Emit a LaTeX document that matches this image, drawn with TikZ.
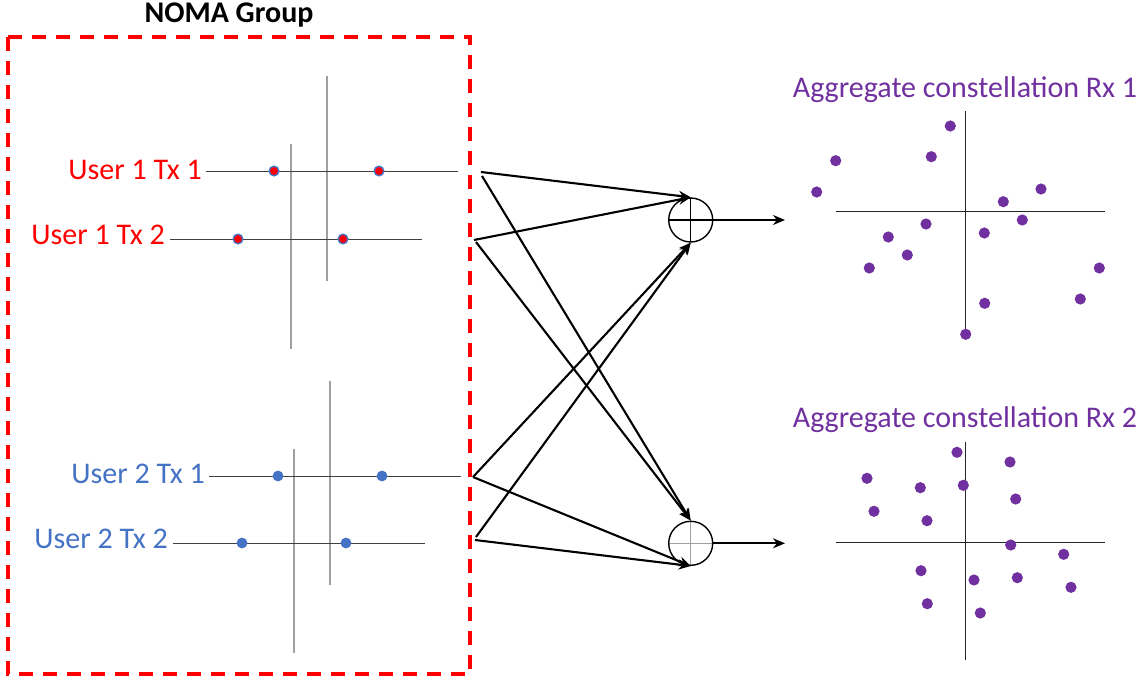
\documentclass[tikz,border=0pt]{standalone}
\usepackage{fontspec}
\setmainfont{Carlito}
\usetikzlibrary{arrows.meta}
\definecolor{nred}{HTML}{FF0000}
\definecolor{nblue}{HTML}{4472C4}
\definecolor{npurple}{HTML}{7030A0}
\definecolor{vgray}{HTML}{A0A0A0}
\definecolor{hgray}{HTML}{404040}
\begin{document}
\begin{tikzpicture}[x=1pt,y=-1pt,
  lbl/.style={font=\fontsize{30}{34}\selectfont, inner sep=0pt},
  ttl/.style={font=\fontsize{30}{34}\selectfont\bfseries, inner sep=0pt},
  txline/.style={draw=hgray, line width=1pt},
  vaxis/.style={draw=vgray, line width=1.4pt},
  rxaxis/.style={draw=black!85, line width=1pt},
  udotA/.style={fill=nred, draw=nblue, line width=1.4pt},
  udotB/.style={fill=nblue},
  rxdot/.style={fill=npurple},
  arr/.style={line width=2.1pt, -{Stealth[length=12pt,width=10pt]}},
  adder/.style={circle, draw, line width=1.4pt, minimum size=44pt, inner sep=0pt,
    path picture={\draw[#1, line width=1.1pt]
      (path picture bounding box.north) -- (path picture bounding box.south)
      (path picture bounding box.west) -- (path picture bounding box.east);}},
  groupbox/.style={draw=nred, line width=3.5pt, dash pattern=on 14pt off 10pt}]
\useasboundingbox (0,0) rectangle (1148,677);

% NOMA group frame and title
\draw[groupbox] (8,37) rectangle (470,674);
\node[ttl, anchor=base] (title) at (229,23) {NOMA Group};

% ---- User 1 constellations ----
\draw[vaxis] (291,144) -- (291,349);
\draw[vaxis] (327,76) -- (327,281);
\coordinate (u1t1w) at (206,171); \coordinate (u1t1e) at (458,171);
\coordinate (u1t2w) at (170,239); \coordinate (u1t2e) at (422,239);
\draw[txline] (u1t1w) -- (u1t1e);
\draw[txline] (u1t2w) -- (u1t2e);
\path[udotA] (274,171) circle (4.8pt) (379,171) circle (4.8pt)
             (238,239) circle (4.8pt) (343,239) circle (4.8pt);
\node[lbl, text=nred, anchor=base east] (u1t1) at (202,179.5) {User 1 Tx 1};
\node[lbl, text=nred, anchor=base east] (u1t2) at (165,244) {User 1 Tx 2};

% ---- User 2 constellations ----
\draw[vaxis] (294,449) -- (294,653);
\draw[vaxis] (330,381) -- (330,585);
\coordinate (u2t1w) at (209,476); \coordinate (u2t1e) at (461,476);
\coordinate (u2t2w) at (173,543); \coordinate (u2t2e) at (425,543);
\draw[txline] (u2t1w) -- (u2t1e);
\draw[txline] (u2t2w) -- (u2t2e);
\path[udotB] (278,476) circle (5.4pt) (382,476) circle (5.4pt)
             (242,543) circle (5.4pt) (346,543) circle (5.4pt);
\node[lbl, text=nblue, anchor=base east] (u2t1) at (205,483.5) {User 2 Tx 1};
\node[lbl, text=nblue, anchor=base east] (u2t2) at (168,548) {User 2 Tx 2};

% ---- Adders ----
\node[adder=black] (sum1) at (690.7,220) {};
\node[adder=vgray] (sum2) at (690.7,543.3) {};

% ---- Channel links ----
\coordinate (s11a) at (481,172); \coordinate (s11b) at (482,176);
\coordinate (s12a) at (474,240); \coordinate (s12b) at (476,242);
\coordinate (s21a) at (473,477); \coordinate (s21b) at (473,477);
\coordinate (s22a) at (476,537); \coordinate (s22b) at (475,540);
\draw[arr] (s11a) -- (sum1.north);
\draw[arr] (s12a) -- (sum1.north);
\draw[arr] (s21a) -- (sum1.south);
\draw[arr] (s22a) -- (sum1.south);
\draw[arr] (s11b) -- (sum2.north);
\draw[arr] (s12b) -- (sum2.north);
\draw[arr] (s21b) -- (sum2.south);
\draw[arr] (s22b) -- (sum2.south);

% ---- Adder outputs ----
\coordinate (rx1in) at (785,220);
\coordinate (rx2in) at (785,543.3);
\draw[arr] (sum1.east) -- (rx1in);
\draw[arr] (sum2.east) -- (rx2in);

% ---- Aggregate constellation Rx 1 ----
\node[lbl, text=npurple, anchor=base] (rx1) at (965,97) {Aggregate constellation Rx 1};
\draw[rxaxis] (836,211.3) -- (1105,211.3);
\draw[rxaxis] (965,111) -- (965,335);
\foreach \p in {(950.3,126),(835.7,160.7),(931.3,156.7),(816.7,192),(1041,189),
  (1003.3,201.7),(926,224),(1022.3,220),(888.3,237),(984.3,233),(907.3,255),
  (869.3,268),(1099.3,268),(1080.3,299),(984.7,303.3),(965.7,334.3)}
  \fill[rxdot] \p circle (5.6pt);

% ---- Aggregate constellation Rx 2 ----
\node[lbl, text=npurple, anchor=base] (rx2) at (965,427.3) {Aggregate constellation Rx 2};
\draw[rxaxis] (836,542.3) -- (1105,542.3);
\draw[rxaxis] (965,442) -- (965,660);
\foreach \p in {(957,452.3),(1010,462),(867,478.3),(920.3,487.7),(963.3,485.3),
  (1015.7,499),(874,511.3),(927,520.7),(1010.7,545),(1063.7,554.3),(921,570.7),
  (974,580),(1017.3,577.7),(1071,587.3),(927.3,603.7),(980.3,613)}
  \fill[rxdot] \p circle (5.6pt);
\end{tikzpicture}
\end{document}
